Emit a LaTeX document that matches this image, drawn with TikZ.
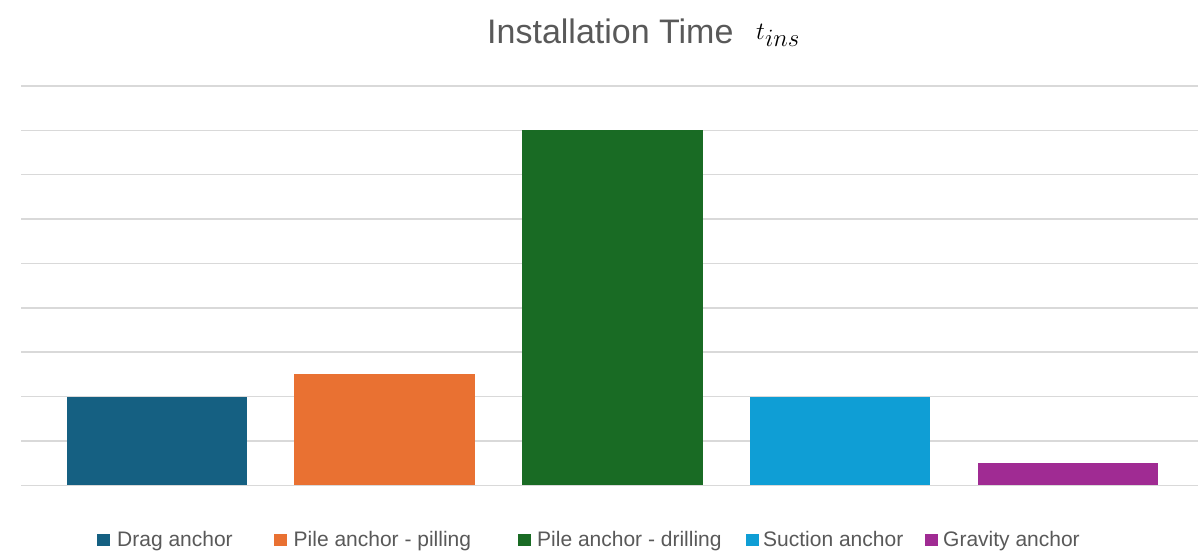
\documentclass[tikz,border=0pt]{standalone}
\usepackage{fontspec}
\setmainfont{Liberation Sans}
\definecolor{textgray}{HTML}{595959}
\definecolor{gridgray}{HTML}{D9D9D9}
\definecolor{cdrag}{HTML}{156082}
\definecolor{cpilling}{HTML}{E97132}
\definecolor{cdrilling}{HTML}{196B24}
\definecolor{csuction}{HTML}{0F9ED5}
\definecolor{cgravity}{HTML}{A02B93}
\begin{document}
\begin{tikzpicture}[x=1pt,y=-1pt,
  gridline/.style={draw=gridgray, line width=1.4pt},
  swatch/.style={minimum size=12.5pt, inner sep=0pt, anchor=south west},
  legtext/.style={text=textgray, font=\fontsize{21}{25}\selectfont, anchor=base west, inner sep=0pt},
  charttitle/.style={text=textgray, font=\fontsize{34}{40}\selectfont, anchor=base west, inner sep=0pt}]
\useasboundingbox[fill=white] (0,0) rectangle (1198,552);

% horizontal grid: baseline at 485.3, one unit = 44.37
\foreach \i in {0,...,9}
  \draw[gridline] (21,{485.3-44.37*\i}) -- (1198,{485.3-44.37*\i});

% bars: index / value / colour
\foreach \k/\v/\c in {0/2/cdrag, 1/2.5/cpilling, 2/8/cdrilling, 3/2/csuction, 4/0.5/cgravity}
  \fill[\c] ({66.7+227.7*\k},485.3) rectangle ({66.7+227.7*\k+180.6},{485.3-44.37*\v});

% title
\node[charttitle] (title) at (487,43) {Installation Time};
\node[anchor=base west, inner sep=0pt, font=\fontsize{39}{44}\selectfont] (tins) at (756,39) {$t_{ins}$};

% legend
\node[swatch, fill=cdrag] (s1) at (97,546.5) {};
\node[legtext] (l1) at (117,546) {Drag anchor};
\node[swatch, fill=cpilling] (s2) at (274,546.5) {};
\node[legtext] (l2) at (293.5,546) {Pile anchor - pilling};
\node[swatch, fill=cdrilling] (s3) at (518,546.5) {};
\node[legtext] (l3) at (537,546) {Pile anchor - drilling};
\node[swatch, fill=csuction] (s4) at (746,546.5) {};
\node[legtext] (l4) at (763,546) {Suction anchor};
\node[swatch, fill=cgravity] (s5) at (925,546.5) {};
\node[legtext] (l5) at (943,546) {Gravity anchor};
\end{tikzpicture}
\end{document}
